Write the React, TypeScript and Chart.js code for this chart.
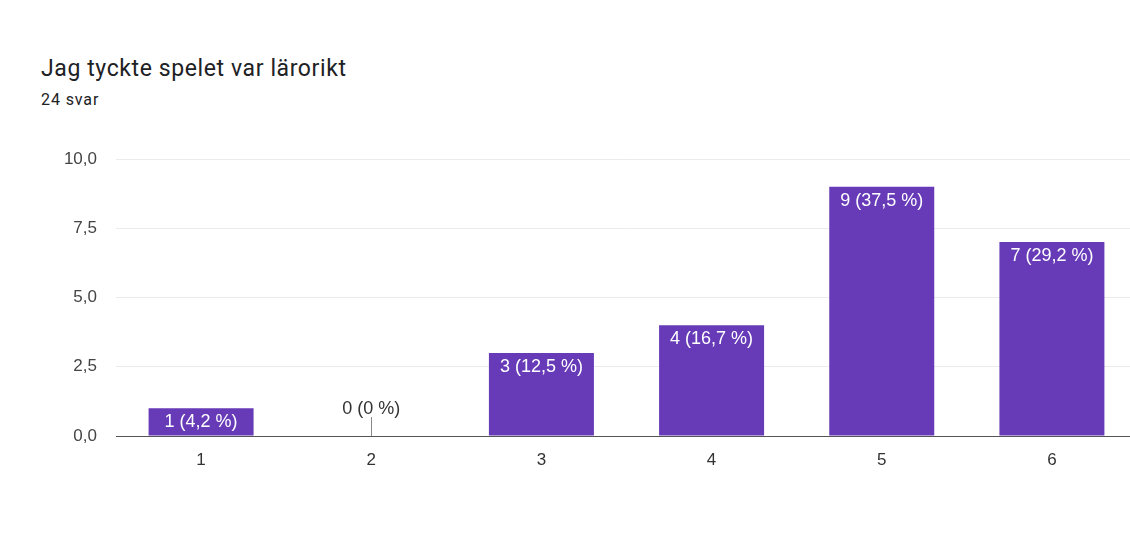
import React, { useEffect, useRef } from "react";
import { Chart, registerables } from "chart.js";

Chart.register(...registerables);

const categories = ["1", "2", "3", "4", "5", "6"];
const counts = [1, 0, 3, 4, 9, 7];
const percentLabels = ["4,2", "0", "12,5", "16,7", "37,5", "29,2"];
const yTicks = [0, 2.5, 5, 7.5, 10];

const TITLE = "Jag tyckte spelet var lärorikt";
const SUBTITLE = "24 svar";
const BAR_COLOR = "#673ab7";
const FONT = "'Liberation Sans', Arial, sans-serif";

const labelPlugin = {
  id: "barLabels",
  afterDatasetsDraw(chart: any) {
    const ctx = chart.ctx;
    const meta = chart.getDatasetMeta(0);
    const base = chart.scales.y.getPixelForValue(0);
    ctx.save();
    ctx.font = `18px ${FONT}`;
    ctx.textAlign = "center";
    ctx.textBaseline = "middle";
    meta.data.forEach((el: any, i: number) => {
      const text = `${counts[i]} (${percentLabels[i]} %)`;
      if (counts[i] === 0) {
        ctx.strokeStyle = "#888";
        ctx.lineWidth = 1;
        ctx.beginPath();
        ctx.moveTo(Math.round(el.x) + 0.5, base);
        ctx.lineTo(Math.round(el.x) + 0.5, base - 19);
        ctx.stroke();
        ctx.fillStyle = "#333";
        ctx.fillText(text, el.x, base - 27);
      } else {
        ctx.fillStyle = "#ffffff";
        ctx.fillText(text, el.x, el.y + 14);
      }
    });
    ctx.restore();
  },
};

export default function App() {
  const ref = useRef<HTMLCanvasElement | null>(null);
  useEffect(() => {
    if (!ref.current) return;
    const chart = new Chart(ref.current, {
      type: "bar",
      data: {
        labels: categories,
        datasets: [
          {
            data: counts,
            backgroundColor: BAR_COLOR,
            borderWidth: 0,
            barPercentage: 0.617,
            categoryPercentage: 1,
          },
        ],
      },
      options: {
        animation: false,
        responsive: false,
        maintainAspectRatio: false,
        events: [],
        layout: { padding: { top: 159, left: 0, right: 3, bottom: 0 } },
        plugins: { legend: { display: false }, tooltip: { enabled: false } },
        scales: {
          x: {
            grid: { display: false, drawTicks: false },
            border: { color: "#555", width: 1 },
            ticks: { color: "#333", font: { family: FONT, size: 17 }, padding: 14 },
            afterFit: (s: any) => {
              s.height = 107;
            },
          },
          y: {
            min: 0,
            max: 10,
            afterBuildTicks: (s: any) => {
              s.ticks = yTicks.map((v) => ({ value: v }));
            },
            grid: { color: "#ebebeb", drawTicks: false },
            border: { display: false },
            ticks: {
              color: "#444",
              font: { family: FONT, size: 17 },
              padding: 19,
              callback: (v: any) => Number(v).toFixed(1).replace(".", ","),
            },
            afterFit: (s: any) => {
              s.width = 116;
            },
          },
        },
      },
      plugins: [labelPlugin],
    });
    return () => chart.destroy();
  }, []);

  return (
    <div
      style={{
        position: "fixed",
        left: 0,
        top: 0,
        width: 1130,
        height: 543,
        overflow: "hidden",
        background: "#fff",
      }}
    >
      <div
        style={{
          position: "absolute",
          left: 41,
          top: 55,
          fontFamily: "Roboto, sans-serif",
          fontSize: 23,
          lineHeight: "27px",
          letterSpacing: "0.6px",
          color: "#202124",
          whiteSpace: "nowrap",
        }}
      >
        {TITLE}
      </div>
      <div
        style={{
          position: "absolute",
          left: 41,
          top: 90,
          fontFamily: "Roboto, sans-serif",
          fontSize: 16,
          lineHeight: "19px",
          letterSpacing: "0.9px",
          color: "#202124",
          whiteSpace: "nowrap",
        }}
      >
        {SUBTITLE}
      </div>
      <canvas
        ref={ref}
        width={1140}
        height={543}
        style={{ position: "absolute", left: 0, top: 0, width: 1140, height: 543 }}
      />
    </div>
  );
}
